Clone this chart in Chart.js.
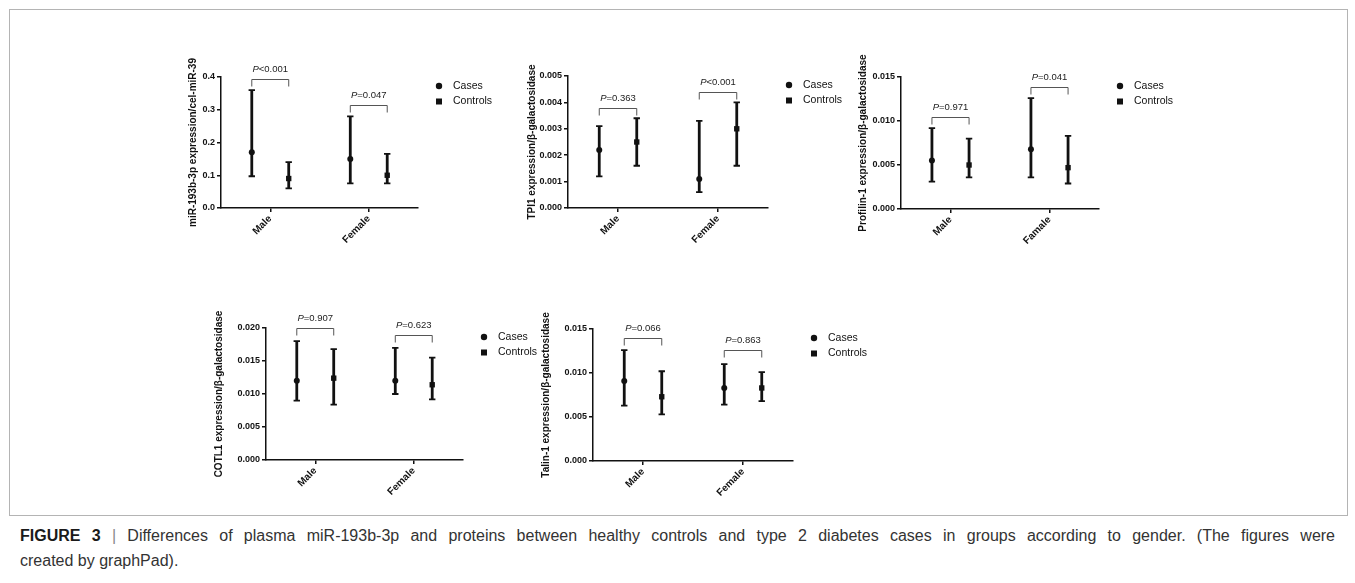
<!DOCTYPE html>
<html>
<head>
<meta charset="utf-8">
<script src="https://cdn.jsdelivr.net/npm/chart.js@4.4.1/dist/chart.umd.min.js"></script>
<style>
  html, body { margin: 0; padding: 0; background: #fff; }
  #page { position: relative; width: 1355px; height: 583px; overflow: hidden; font-family: 'Liberation Sans', Arial, sans-serif; }
  #frame { position: absolute; left: 9px; top: 9px; width: 1337px; height: 505px; border: 1px solid #b4b4b4; }
  canvas { position: absolute; }
  #caption { position: absolute; left: 20px; top: 523px; width: 1315px; font-size: 16px; line-height: 25px; color: #333; white-space: nowrap; }
  #caption .first { text-align: justify; text-align-last: justify; }
  #caption b { color: #1a1a1a; }
  #caption .bar { color: #888; }
</style>
</head>
<body>
<div id="page">
  <div id="frame"></div>
  <canvas id="mir"></canvas>
  <canvas id="tpi"></canvas>
  <canvas id="pfn"></canvas>
  <canvas id="cotl"></canvas>
  <canvas id="talin"></canvas>
  <div id="caption">
    <div class="first"><b>FIGURE 3</b> <span class="bar">|</span> Differences of plasma miR-193b-3p and proteins between healthy controls and type 2 diabetes cases in groups according to gender. (The figures were</div>
    <div>created by graphPad).</div>
  </div>
</div>
<script>
const groups = ['Male', 'Female'];
const groupsPfn = ['Male', 'Famale'];
const seriesNames = ['Cases', 'Controls'];

// each row: [mean, lower, upper] for Male, Female
const mirCases = [[0.17, 0.097, 0.36], [0.15, 0.075, 0.28]];
const mirControls = [[0.09, 0.06, 0.14], [0.10, 0.075, 0.165]];
const mirP = ['<0.001', '=0.047'];
const mirBracket = [0.394, 0.315];
const mirTicks = [0, 0.1, 0.2, 0.3, 0.4];

const tpiCases = [[0.0022, 0.0012, 0.0031], [0.0011, 0.0006, 0.0033]];
const tpiControls = [[0.0025, 0.0016, 0.0034], [0.003, 0.0016, 0.004]];
const tpiP = ['=0.363', '<0.001'];
const tpiBracket = [0.00377, 0.0044];
const tpiTicks = [0, 0.001, 0.002, 0.003, 0.004, 0.005];

const pfnCases = [[0.0055, 0.0031, 0.0092], [0.0068, 0.0036, 0.0126]];
const pfnControls = [[0.005, 0.0036, 0.008], [0.0047, 0.0029, 0.0083]];
const pfnP = ['=0.971', '=0.041'];
const pfnBracket = [0.0105, 0.0139];
const pfnTicks = [0, 0.005, 0.010, 0.015];

const cotlCases = [[0.012, 0.009, 0.018], [0.012, 0.010, 0.017]];
const cotlControls = [[0.0124, 0.0084, 0.0168], [0.0114, 0.0092, 0.0155]];
const cotlP = ['=0.907', '=0.623'];
const cotlBracket = [0.020, 0.0189];
const cotlTicks = [0, 0.005, 0.010, 0.015, 0.020];

const talinCases = [[0.0091, 0.0063, 0.0126], [0.0083, 0.0064, 0.011]];
const talinControls = [[0.0073, 0.0053, 0.0102], [0.0083, 0.0068, 0.0101]];
const talinP = ['=0.066', '=0.863'];
const talinBracket = [0.014, 0.0126];
const talinTicks = [0, 0.005, 0.010, 0.015];

const ink = '#111';
const fam = "'Liberation Sans', Arial, sans-serif";
Chart.defaults.font.family = fam;
Chart.defaults.color = ink;

// vertical whiskers with caps, drawn under the markers
const errorBars = {
    id: 'errorBars',
    beforeDatasetsDraw(chart) {
        const ctx = chart.ctx;
        const y = chart.scales.y;
        ctx.save();
        ctx.strokeStyle = ink;
        chart.data.datasets.forEach((ds, i) => {
            chart.getDatasetMeta(i).data.forEach((pt, j) => {
                const lo = y.getPixelForValue(ds.data[j].low);
                const hi = y.getPixelForValue(ds.data[j].high);
                ctx.lineWidth = 2.8;
                ctx.beginPath();
                ctx.moveTo(pt.x, lo);
                ctx.lineTo(pt.x, hi);
                ctx.stroke();
                ctx.lineWidth = 1.8;
                ctx.beginPath();
                ctx.moveTo(pt.x - 3.2, lo); ctx.lineTo(pt.x + 3.2, lo);
                ctx.moveTo(pt.x - 3.2, hi); ctx.lineTo(pt.x + 3.2, hi);
                ctx.stroke();
            });
        });
        ctx.restore();
    }
};

// significance brackets with italic P
const pBrackets = {
    id: 'pBrackets',
    afterDatasetsDraw(chart, args, opts) {
        const ctx = chart.ctx;
        const y = chart.scales.y;
        const a = chart.getDatasetMeta(0).data;
        const b = chart.getDatasetMeta(1).data;
        ctx.save();
        opts.levels.forEach((lvl, j) => {
            const top = Math.round(y.getPixelForValue(lvl)) + 0.5;
            const x0 = a[j].x, x1 = b[j].x;
            ctx.strokeStyle = '#555';
            ctx.lineWidth = 1;
            ctx.beginPath();
            ctx.moveTo(x0, top + 7);
            ctx.lineTo(x0, top);
            ctx.lineTo(x1, top);
            ctx.lineTo(x1, top + 7);
            ctx.stroke();

            const it = 'italic 9.5px ' + fam, rg = '9.5px ' + fam;
            ctx.font = it;
            const wP = ctx.measureText('P').width;
            ctx.font = rg;
            const wV = ctx.measureText(opts.labels[j]).width;
            const tx = (x0 + x1) / 2 - (wP + wV) / 2;
            const ty = top - 10;
            ctx.fillStyle = '#222';
            ctx.textBaseline = 'middle';
            ctx.textAlign = 'left';
            ctx.font = it;
            ctx.fillText('P', tx, ty);
            ctx.font = rg;
            ctx.fillText(opts.labels[j], tx + wP, ty);
        });
        ctx.restore();
    }
};

// legend beside the plot: marker then label
const sideLegend = {
    id: 'sideLegend',
    afterDraw(chart) {
        const ctx = chart.ctx;
        const area = chart.chartArea;
        ctx.save();
        ctx.fillStyle = ink;
        ctx.font = '10.5px ' + fam;
        ctx.textBaseline = 'middle';
        ctx.textAlign = 'left';
        chart.data.datasets.forEach((ds, i) => {
            const x = area.right + 21;
            const y = area.top + 9 + i * 15.5;
            if (ds.pointStyle === 'rect') {
                ctx.fillRect(x - 3, y - 3, 6, 6);
            } else {
                ctx.beginPath();
                ctx.arc(x, y, 3.2, 0, Math.PI * 2);
                ctx.fill();
            }
            ctx.fillText(ds.label, x + 14, y);
        });
        ctx.restore();
    }
};

function toPoints(rows, side) {
    return rows.map((r, i) => ({ x: 2 * i + 1 + side * 0.375, y: r[0], low: r[1], high: r[2] }));
}

function panel(id, box, d) {
    const yW = Math.round(box.axisLeft - box.titleX + 6);
    const padTop = 30, xH = 40, padRight = 95;
    const plotW = box.axisRight - box.axisLeft;
    const plotH = box.bottom - box.top;
    const cv = document.getElementById(id);
    cv.width = Math.round(yW + plotW + padRight);
    cv.height = Math.round(padTop + plotH + xH);
    cv.style.left = Math.round(box.axisLeft - yW) + 'px';
    cv.style.top = Math.round(box.top - padTop) + 'px';

    const axisGrid = { drawOnChartArea: false, drawTicks: true, tickLength: 4, color: ink, lineWidth: 1.5 };
    const axisBorder = { display: true, color: ink, width: 1.5 };

    new Chart(cv, {
        type: 'scatter',
        data: {
            datasets: [
                { label: seriesNames[0], data: toPoints(d.cases, -1), pointStyle: 'circle', pointRadius: 3, backgroundColor: ink, borderWidth: 0 },
                { label: seriesNames[1], data: toPoints(d.controls, 1), pointStyle: 'rect', pointRadius: 3.8, backgroundColor: ink, borderWidth: 0 }
            ]
        },
        options: {
            responsive: false,
            animation: false,
            events: [],
            layout: { padding: { top: padTop, right: padRight, left: 0, bottom: 0 } },
            scales: {
                x: {
                    type: 'linear',
                    min: 0,
                    max: 4,
                    afterBuildTicks: s => { s.ticks = [{ value: 1 }, { value: 3 }]; },
                    afterFit: s => { s.height = xH; },
                    ticks: {
                        callback: v => d.groups[(v - 1) / 2],
                        minRotation: 45,
                        maxRotation: 45,
                        autoSkip: false,
                        padding: 1,
                        color: ink,
                        font: { size: 10, weight: 'bold' }
                    },
                    grid: axisGrid,
                    border: axisBorder
                },
                y: {
                    min: 0,
                    max: d.ticks[d.ticks.length - 1],
                    afterBuildTicks: s => { s.ticks = d.ticks.map(v => ({ value: v })); },
                    afterFit: s => { s.width = yW; },
                    ticks: {
                        callback: v => v.toFixed(d.decimals),
                        padding: 2,
                        color: ink,
                        font: { size: 9, weight: 'bold' }
                    },
                    grid: axisGrid,
                    border: axisBorder,
                    title: {
                        display: true,
                        text: d.title,
                        padding: 0,
                        color: ink,
                        font: { size: 10, weight: 'bold' }
                    }
                }
            },
            plugins: {
                legend: { display: false },
                tooltip: { enabled: false },
                pBrackets: { levels: d.bracket, labels: d.p }
            }
        },
        plugins: [errorBars, pBrackets, sideLegend]
    });
}

panel('mir', { axisLeft: 221, axisRight: 418, top: 77, bottom: 208, titleX: 193 },
    { groups, cases: mirCases, controls: mirControls, p: mirP, bracket: mirBracket, ticks: mirTicks, decimals: 1,
      title: 'miR-193b-3p expression/cel-miR-39' });
panel('tpi', { axisLeft: 568, axisRight: 768, top: 76, bottom: 208, titleX: 532 },
    { groups, cases: tpiCases, controls: tpiControls, p: tpiP, bracket: tpiBracket, ticks: tpiTicks, decimals: 3,
      title: 'TPI1 expression/β-galactosidase' });
panel('pfn', { axisLeft: 901, axisRight: 1099, top: 77, bottom: 209, titleX: 863 },
    { groups: groupsPfn, cases: pfnCases, controls: pfnControls, p: pfnP, bracket: pfnBracket, ticks: pfnTicks, decimals: 3,
      title: 'Profilin-1 expression/β-galactosidase' });
panel('cotl', { axisLeft: 266, axisRight: 463, top: 328, bottom: 460, titleX: 219 },
    { groups, cases: cotlCases, controls: cotlControls, p: cotlP, bracket: cotlBracket, ticks: cotlTicks, decimals: 3,
      title: 'COTL1 expression/β-galactosidase' });
panel('talin', { axisLeft: 593, axisRight: 793, top: 329, bottom: 461, titleX: 546 },
    { groups, cases: talinCases, controls: talinControls, p: talinP, bracket: talinBracket, ticks: talinTicks, decimals: 3,
      title: 'Talin-1 expression/β-galactosidase' });
</script>
</body>
</html>
